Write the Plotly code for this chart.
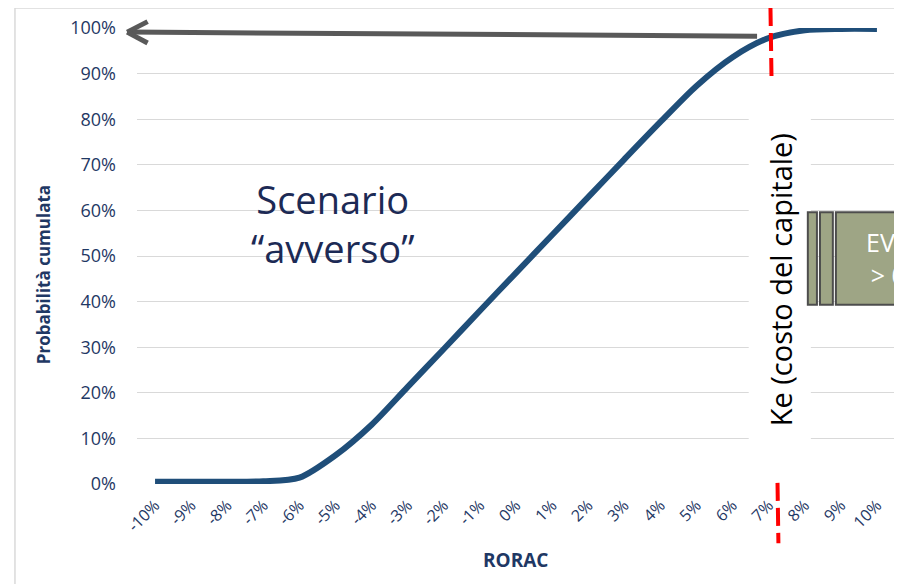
import plotly.graph_objects as go

# RORAC categories (%), cumulative probability (%)
rorac = [-10, -9, -8, -7, -6, -5, -4, -3, -2, -1, 0, 1, 2, 3, 4, 5, 6, 7, 8, 9, 10]
prob_cum = [0.5, 0.5, 0.5, 0.6, 1.4, 6.3, 13.0, 21.3, 29.6, 38.0, 46.3,
            54.6, 62.9, 71.2, 79.4, 87.3, 93.6, 97.8, 99.5, 99.8, 99.8]
x_ticklabels = [f"{v}%" for v in rorac]
y_ticks = list(range(0, 101, 10))
y_ticklabels = [f"{v}%" for v in y_ticks]

ke_rorac = 7.05  # cost of capital marker

NAVY = "#1F3864"
LINE = "#1F4E79"
GRID = "#D9D9D9"
FONT = "Open Sans"

fig = go.Figure()
fig.add_trace(go.Scatter(
    x=rorac,
    y=prob_cum,
    mode="lines",
    line=dict(color=LINE, width=6, shape="spline", smoothing=0.8),
    hoverinfo="x+y",
))

shapes = [
    # outer frame
    dict(type="rect", xref="paper", yref="paper", x0=-0.161, x1=1.2, y0=-0.4, y1=1.044,
         line=dict(color=GRID, width=1.5), fillcolor="rgba(0,0,0,0)", layer="below"),
    # white box behind "Scenario avverso"
    dict(type="rect", xref="paper", yref="paper", x0=0.028, x1=0.491, y0=0.425, y1=0.75,
         line=dict(width=0), fillcolor="white", layer="between"),
    # red dashed Ke line
    dict(type="line", xref="x", yref="paper", x0=ke_rorac, x1=ke_rorac + 0.22, y0=1.044, y1=-0.13,
         line=dict(color="#FF0000", width=4, dash="18px,7px"), layer="above"),
    # white box behind Ke label
    dict(type="rect", xref="paper", yref="paper", x0=0.807, x1=0.889, y0=0.013, y1=0.882,
         line=dict(width=0), fillcolor="white", layer="above"),
    # grey arrow towards 100%
    dict(type="line", xref="paper", yref="paper", x0=0.818, x1=-0.011, y0=0.982, y1=0.991,
         line=dict(color="#595959", width=5), layer="above"),
    dict(type="line", xref="paper", yref="paper", x0=-0.013, x1=0.014, y0=0.991, y1=1.014,
         line=dict(color="#595959", width=5), layer="above"),
    dict(type="line", xref="paper", yref="paper", x0=-0.013, x1=0.014, y0=0.991, y1=0.967,
         line=dict(color="#595959", width=5), layer="above"),
    # EVA box (cut at the right edge, as in the source slide)
    dict(type="rect", xref="paper", yref="paper", x0=0.885, x1=0.897, y0=0.393, y1=0.596,
         line=dict(color="#4D4D4D", width=2), fillcolor="#9EA585", layer="above"),
    dict(type="rect", xref="paper", yref="paper", x0=0.901, x1=0.918, y0=0.393, y1=0.596,
         line=dict(color="#4D4D4D", width=2), fillcolor="#9EA585", layer="above"),
    dict(type="rect", xref="paper", yref="paper", x0=0.922, x1=1.10, y0=0.393, y1=0.596,
         line=dict(color="#4D4D4D", width=2), fillcolor="#9EA585", layer="above"),
]

annotations = [
    dict(text="Scenario<br>“avverso”", xref="paper", yref="paper", x=0.258, y=0.572,
         xanchor="center", yanchor="middle",
         showarrow=False, font=dict(family=FONT, size=38, color="#1C2A55")),
    dict(text="Ke (costo del capitale)", xref="paper", yref="paper", x=0.849, y=0.448,
         xanchor="center", yanchor="middle",
         textangle=-90, showarrow=False, font=dict(family=FONT, size=29, color="black")),
    dict(text="EVA<br>> 0", xref="paper", yref="paper", x=0.992, y=0.495,
         xanchor="center", yanchor="middle",
         showarrow=False, font=dict(family=FONT, size=25, color="white")),
    dict(text="<b>Probabilità cumulata</b>", xref="paper", yref="paper", x=-0.124, y=0.458,
         xanchor="center", yanchor="middle",
         textangle=-90, showarrow=False, font=dict(family=FONT, size=17, color=NAVY)),
    dict(text="<b>RORAC</b>", xref="paper", yref="paper", x=0.499, y=-0.167,
         xanchor="center", yanchor="middle",
         showarrow=False, font=dict(family=FONT, size=19, color=NAVY)),
]

# page body adds an 8px offset, so the figure is 8px smaller than the window
fig.update_layout(
    width=894,
    height=576,
    margin=dict(l=129, r=7, t=20, b=100),
    paper_bgcolor="white",
    plot_bgcolor="white",
    showlegend=False,
    shapes=shapes,
    annotations=annotations,
    xaxis=dict(
        range=[-10.5, 10.5],
        tickvals=rorac,
        ticktext=x_ticklabels,
        tickangle=-45,
        tickfont=dict(family=FONT, size=16, color=NAVY),
        showgrid=False,
        zeroline=False,
        showline=False,
        ticks="",
        ticklabelstandoff=8,
        automargin=False,
        fixedrange=True,
    ),
    yaxis=dict(
        range=[0, 100],
        tickvals=y_ticks,
        ticktext=y_ticklabels,
        tickfont=dict(family=FONT, size=18, color=NAVY),
        showgrid=True,
        gridcolor=GRID,
        gridwidth=1.2,
        zeroline=False,
        showline=False,
        ticks="",
        ticklabelstandoff=20,
        automargin=False,
        fixedrange=True,
    ),
)

fig.write_html("out.html")
